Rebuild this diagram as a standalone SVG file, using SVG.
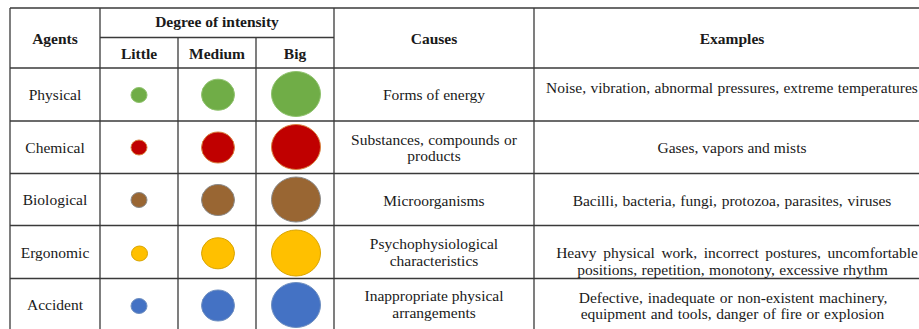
<svg xmlns="http://www.w3.org/2000/svg" width="919" height="329" viewBox="0 0 919 329">
<style>
  .bg { fill: #ffffff; }
  .grid line { stroke: #3a3a3a; stroke-width: 1.3; }
  text { font-family: "Liberation Serif", "Times New Roman", serif; font-size: 15.5px; fill: #1a1a1a; text-anchor: middle; }
  .hd { font-weight: bold; }
  .green { fill: #70AD47; stroke: #8fc26d; stroke-width: 1; }
  .red { fill: #C00000; stroke: #d9823f; stroke-width: 1; }
  .brown { fill: #996633; stroke: #8a8a8a; stroke-width: 1; }
  .yellow { fill: #FFC000; stroke: #d9a400; stroke-width: 1; }
  .blue { fill: #4472C4; stroke: #6f8fc0; stroke-width: 1; }
</style>
<rect class="bg" x="0" y="0" width="919" height="329"/>

<g id="connectors" class="grid">
  <line x1="10" y1="8" x2="919" y2="8"/>
  <line x1="100" y1="37.5" x2="334" y2="37.5"/>
  <line x1="10" y1="68" x2="919" y2="68"/>
  <line x1="10" y1="121" x2="919" y2="121"/>
  <line x1="10" y1="173.5" x2="919" y2="173.5"/>
  <line x1="10" y1="225.5" x2="919" y2="225.5"/>
  <line x1="10" y1="278.5" x2="919" y2="278.5"/>
  <line x1="10" y1="8" x2="10" y2="329"/>
  <line x1="100" y1="8" x2="100" y2="329"/>
  <line x1="178" y1="37.5" x2="178" y2="329"/>
  <line x1="256" y1="37.5" x2="256" y2="329"/>
  <line x1="334" y1="8" x2="334" y2="329"/>
  <line x1="534" y1="8" x2="534" y2="329"/>
</g>

<g id="header">
  <text class="hd" x="55" y="43.5">Agents</text>
  <text class="hd" x="217" y="27">Degree of intensity</text>
  <text class="hd" x="139" y="58.5">Little</text>
  <text class="hd" x="217" y="58.5">Medium</text>
  <text class="hd" x="295" y="58.5">Big</text>
  <text class="hd" x="434" y="43.5">Causes</text>
  <text class="hd" x="732" y="43.5">Examples</text>
</g>

<g id="row-physical">
  <text x="55" y="100">Physical</text>
  <ellipse class="green" cx="139" cy="95" rx="8" ry="7.5"/>
  <ellipse class="green" cx="218" cy="94.7" rx="16.5" ry="15.5"/>
  <ellipse class="green" cx="296" cy="94" rx="24.5" ry="22.5"/>
  <text x="434" y="100">Forms of energy</text>
  <text x="546" y="92.5" style="text-anchor:start" word-spacing="0.5">Noise, vibration, abnormal pressures, extreme temperatures</text>
</g>

<g id="row-chemical">
  <text x="55" y="152.5">Chemical</text>
  <ellipse class="red" cx="139" cy="147.5" rx="8" ry="7.5"/>
  <ellipse class="red" cx="218" cy="147.5" rx="16.5" ry="15.5"/>
  <ellipse class="red" cx="296" cy="147" rx="24.5" ry="22.5"/>
  <text x="434" y="144.5" word-spacing="0.5">Substances, compounds or</text>
  <text x="434" y="161">products</text>
  <text x="732" y="153">Gases, vapors and mists</text>
</g>

<g id="row-biological">
  <text x="55" y="205">Biological</text>
  <ellipse class="brown" cx="139" cy="200" rx="8" ry="7.5"/>
  <ellipse class="brown" cx="218" cy="200" rx="16.5" ry="15.5"/>
  <ellipse class="brown" cx="296" cy="199.5" rx="24.5" ry="22.5"/>
  <text x="434" y="205.5">Microorganisms</text>
  <text x="732" y="205.5" word-spacing="0.9">Bacilli, bacteria, fungi, protozoa, parasites, viruses</text>
</g>

<g id="row-ergonomic">
  <text x="55" y="258">Ergonomic</text>
  <ellipse class="yellow" cx="139.5" cy="253.5" rx="8" ry="7.5"/>
  <ellipse class="yellow" cx="218" cy="253.3" rx="16.5" ry="15.5"/>
  <ellipse class="yellow" cx="296" cy="253" rx="24.5" ry="23"/>
  <text x="434" y="248.5">Psychophysiological</text>
  <text x="434" y="266">characteristics</text>
  <text x="737" y="258" word-spacing="2.7">Heavy physical work, incorrect postures, uncomfortable</text>
  <text x="732.5" y="275" word-spacing="0.5">positions, repetition, monotony, excessive rhythm</text>
</g>

<g id="row-accident">
  <text x="55" y="310">Accident</text>
  <ellipse class="blue" cx="139" cy="306" rx="8" ry="7.5"/>
  <ellipse class="blue" cx="218" cy="305.5" rx="16.5" ry="15.5"/>
  <ellipse class="blue" cx="296" cy="305" rx="24.5" ry="22.5"/>
  <text x="434" y="301">Inappropriate physical</text>
  <text x="434" y="318">arrangements</text>
  <text x="733" y="302.5" word-spacing="1">Defective, inadequate or non-existent machinery,</text>
  <text x="732.5" y="319" word-spacing="0.7">equipment and tools, danger of fire or explosion</text>
</g>
</svg>
